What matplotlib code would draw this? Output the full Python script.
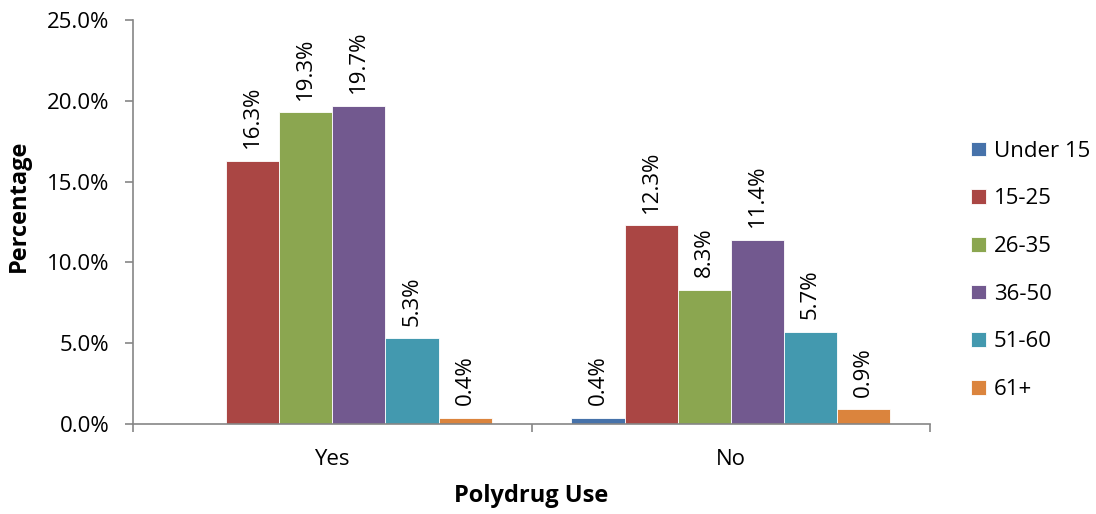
import matplotlib
matplotlib.use('Agg')
import matplotlib.pyplot as plt
import numpy as np

categories = ['Yes', 'No']
age_groups = ['Under 15', '15-25', '26-35', '36-50', '51-60', '61+']
# percentages per age group: [Yes, No]; Yes/Under 15 has no bar
values = {
    'Under 15': [np.nan, 0.4],
    '15-25': [16.3, 12.3],
    '26-35': [19.3, 8.3],
    '36-50': [19.7, 11.4],
    '51-60': [5.3, 5.7],
    '61+': [0.4, 0.9],
}
colors = ['#4672AA', '#AA4644', '#8BA650', '#72598F', '#4399AF', '#DB843D']

plt.rcParams['font.family'] = ['Open Sans', 'DejaVu Sans']
FS = 16

fig = plt.figure(figsize=(10.96, 5.14), dpi=100)
ax = fig.add_axes([0.1214, 0.1751, 0.7271, 0.786])

x = np.arange(len(categories))
w = 0.1333
axis_col = '#868686'

for i, (grp, c) in enumerate(zip(age_groups, colors)):
    vals = np.array(values[grp], dtype=float)
    xs = x + (i - 2.5) * w
    ax.bar(xs, vals, w, color=c, edgecolor='white', linewidth=0.6, label=grp, zorder=2)
    for xc, v in zip(xs, vals):
        if np.isnan(v):
            continue
        ax.annotate(f'{v:.1f}%', (xc, v), textcoords='offset points', xytext=(0, 9),
                    rotation=90, ha='center', va='bottom', fontsize=FS)

ax.set_xlim(-0.5, 1.5)
ax.set_ylim(0, 25)
ax.set_yticks(np.arange(0, 25.1, 5))
ax.set_yticklabels([f'{t:.1f}%' for t in np.arange(0, 25.1, 5)], fontsize=FS)

ax.set_xticks([-0.5, 0.5, 1.5])
ax.set_xticklabels([])
ax.set_xticks(x, minor=True)
ax.set_xticklabels(categories, minor=True, fontsize=FS)
ax.tick_params(axis='x', which='minor', length=0, pad=18)
ax.tick_params(axis='x', which='major', length=6, color=axis_col, width=1.2)
ax.tick_params(axis='y', length=6, color=axis_col, width=1.2, pad=11)

for side in ['top', 'right']:
    ax.spines[side].set_visible(False)
for side in ['left', 'bottom']:
    ax.spines[side].set_color(axis_col)
    ax.spines[side].set_linewidth(1.2)

ax.set_ylabel('Percentage', fontsize=17, fontweight='bold')
ax.yaxis.set_label_coords(-0.128, 0.54)
ax.set_xlabel('Polydrug Use', fontsize=17, fontweight='bold', labelpad=10)

ax.legend(loc='center left', bbox_to_anchor=(1.027, 0.38), frameon=False, fontsize=FS,
          handlelength=0.65, handleheight=0.65, handletextpad=0.35, labelspacing=1.2)

fig.savefig('out.png', dpi=100)
